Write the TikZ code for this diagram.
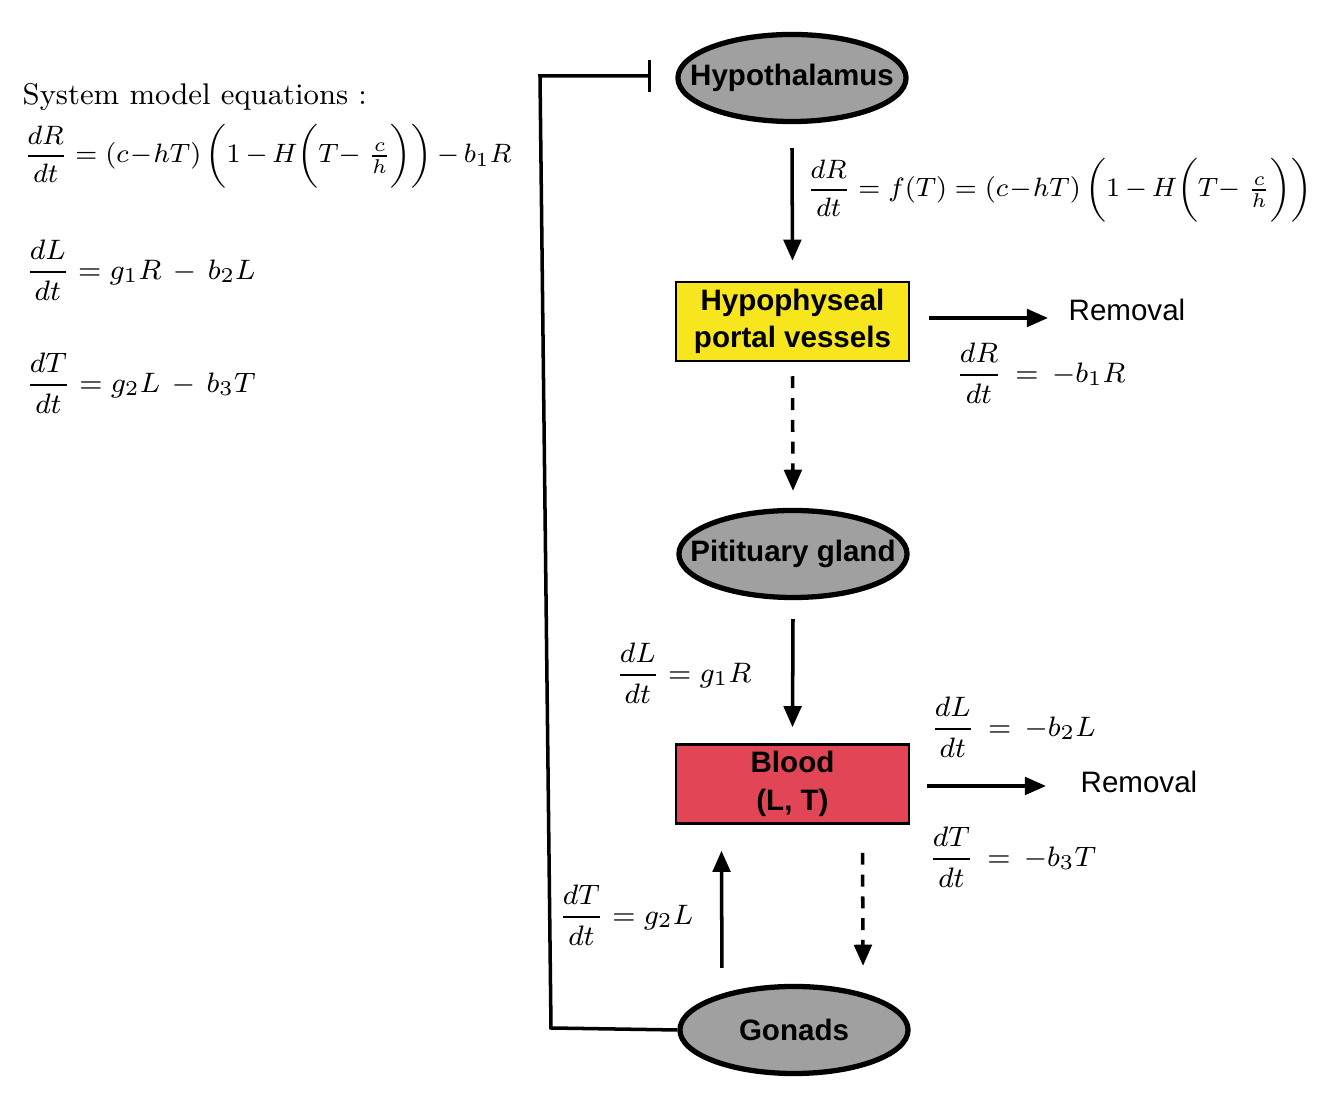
\documentclass[tikz,border=0pt]{standalone}
\usepackage{amsmath}
\usepackage{fontspec}
\setsansfont{Liberation Sans}
\usetikzlibrary{shapes.geometric,arrows.meta}

\definecolor{organgray}{RGB}{160,160,160}
\definecolor{portalyellow}{RGB}{247,230,30}
\definecolor{bloodred}{RGB}{225,69,86}

\tikzset{
  organ/.style={ellipse,draw,line width=1.5pt,fill=organgray,minimum width=2.28cm,minimum height=0.87cm,inner sep=0pt,
    label={[font=\sffamily\bfseries\fontsize{8.4}{10}\selectfont]center:#1}},
  compartment/.style={draw,line width=0.7pt,minimum width=2.33cm,minimum height=0.79cm,inner sep=0pt,align=center,font=\sffamily\bfseries\fontsize{8.4}{10.6}\selectfont},
  flow/.style={line width=1pt,-{Triangle[length=6pt,width=5pt]}},
  eq/.style={anchor=west,inner sep=0pt,font=\fontsize{8}{10}\selectfont},
  longeq/.style={eq,scale=0.945,transform shape},
  removal/.style={anchor=west,inner sep=0pt,font=\sffamily\fontsize{8.4}{10}\selectfont}
}

\begin{document}
\begin{tikzpicture}[x=0.01cm,y=-0.01cm]
    \useasboundingbox (0,0) rectangle (1323,1098);

    % compartments
    \node[organ=Hypothalamus] (hypo) at (792,78) {};
    \node[compartment,fill=portalyellow] (portal) at (792.5,321.5) {Hypophyseal\\portal vessels};
    \node[organ=Pitituary gland] (pituitary) at (793,554) {};
    \node[compartment,fill=bloodred] (blood) at (792.5,784) {Blood\\(L, T)};
    \node[organ=Gonads] (gonads) at (794,1030) {};

    % removal labels
    \node[removal] (rem1) at (1068,310) {Removal};
    \node[removal] (rem2) at (1080,782) {Removal};

    % flows
    \draw[flow] ([yshift=-0.24cm]hypo.south) -- ([yshift=0.2cm]portal.north);
    \draw[flow,dash pattern=on 3.4pt off 2.8pt] ([yshift=-0.14cm]portal.south) -- ([yshift=0.17cm]pituitary.north);
    \draw[flow] ([yshift=-0.19cm]pituitary.south) -- ([yshift=0.16cm]blood.north);
    \draw[flow] ([shift={(-0.72cm,0.16cm)}]gonads.north) -- ([shift={(-0.71cm,-0.26cm)}]blood.south);
    \draw[flow,dash pattern=on 3.4pt off 2.8pt] ([shift={(0.7cm,-0.28cm)}]blood.south) -- ([shift={(0.69cm,0.18cm)}]gonads.north);
    \draw[flow,shorten <=0.19cm,shorten >=0.2cm] ([yshift=0.035cm]portal.east) -- ([yshift=0.035cm]portal.east -| rem1.west);
    \draw[flow,shorten <=0.17cm,shorten >=0.34cm] ([yshift=-0.02cm]blood.east) -- ([yshift=-0.02cm]blood.east -| rem2.west);

    % feedback from gonads
    \draw[line width=1pt,-{Bar[width=9pt]}] (gonads.west) -- (551,1028) -- (540,76) -- ([xshift=-0.24cm,yshift=0.02cm]hypo.west);

    % rates along the flows
    \node[longeq] (fT) at (806,190) {$\dfrac{dR}{dt} = f(T) = (c\mkern1mu{-}\mkern1mu hT)\,\biggl(1\,{-}\,H\biggl(T{-}\;\tfrac{c}{h}\biggr)\biggr)$};
    \node[eq] (outR) at (955,373) {$\dfrac{dR}{dt}\,=\,-b_1R$};
    \node[eq] (inL) at (615,673) {$\dfrac{dL}{dt} = g_1R$};
    \node[eq] (outL) at (930,727) {$\dfrac{dL}{dt}\,=\,-b_2L$};
    \node[eq] (outT) at (928,857) {$\dfrac{dT}{dt}\,=\,-b_3T$};
    \node[eq] (inT) at (558,915) {$\dfrac{dT}{dt} = g_2L$};

    % system of equations
    \node[anchor=base west,inner sep=0pt,font=\fontsize{8.5}{10}\selectfont] (title) at (22,105) {System model equations :};
    \node[longeq] (sysR) at (23,156) {$\dfrac{dR}{dt} = (c\mkern1mu{-}\mkern1mu hT)\,\biggl(1\,{-}\,H\biggl(T{-}\;\tfrac{c}{h}\biggr)\biggr)\,{-}\,b_1R$};
    \node[eq] (sysL) at (25,270) {$\dfrac{dL}{dt} = g_1R\,-\,b_2L$};
    \node[eq] (sysT) at (25,383) {$\dfrac{dT}{dt} = g_2L\,-\,b_3T$};
\end{tikzpicture}
\end{document}
